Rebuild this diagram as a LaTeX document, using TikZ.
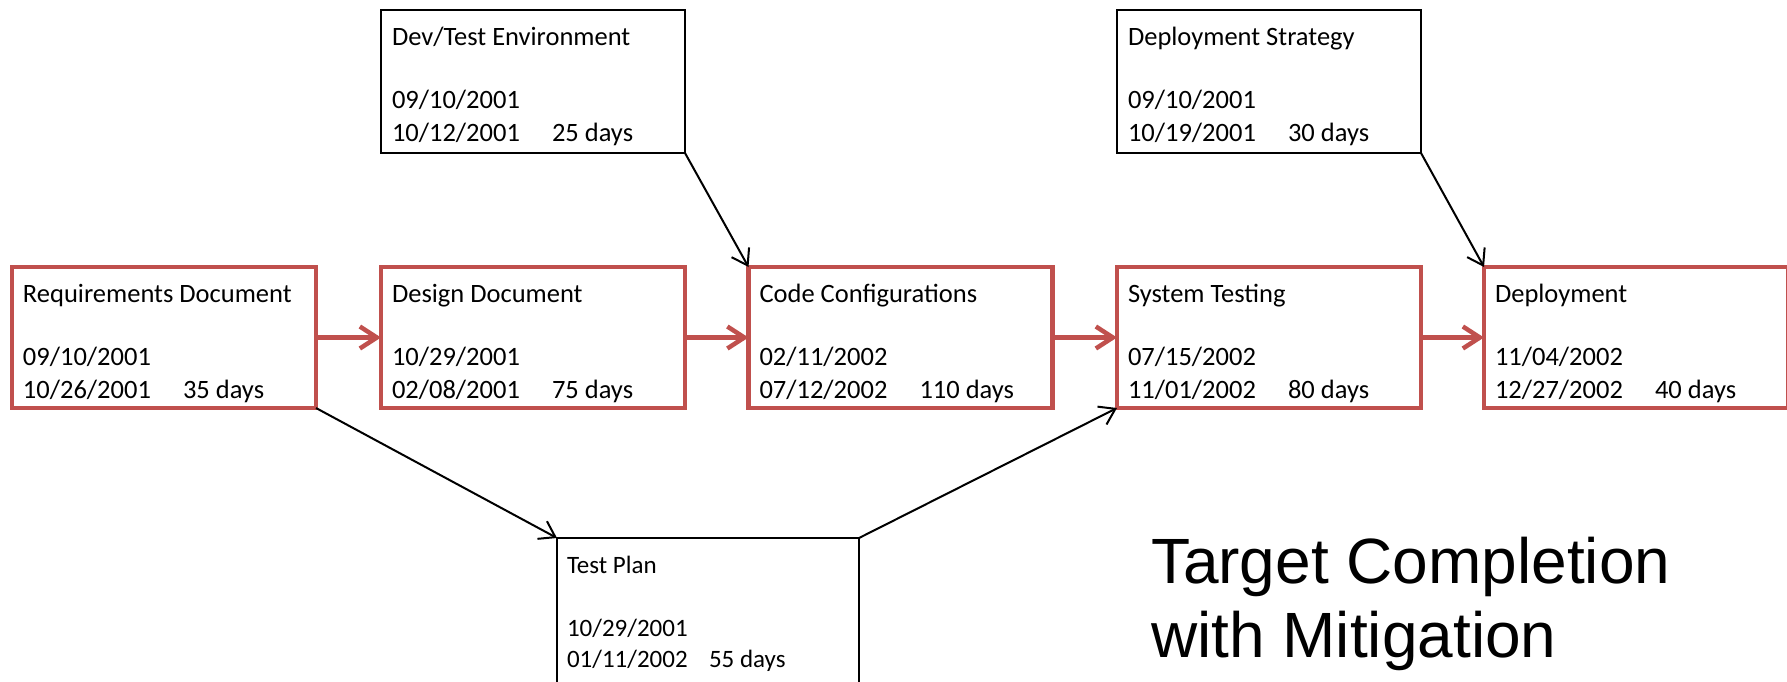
\documentclass[tikz,border=0pt]{standalone}
\usepackage{fontspec}
\setmainfont{Carlito}
\newfontfamily\arialfont{Liberation Sans}
\usetikzlibrary{arrows.meta,calc}
\definecolor{accred}{RGB}{192,80,77}
\tikzset{
  crit/.style={draw=accred, line width=4.5pt, rectangle, inner sep=0pt, outer sep=0pt, minimum width=304pt, minimum height=141pt},
  side/.style={draw=black, line width=2pt, rectangle, inner sep=0pt, outer sep=0pt, minimum width=304pt, minimum height=143pt},
  txt/.style={anchor=base west, inner sep=0pt, outer sep=0pt, font=\fontsize{26.5}{32}\selectfont},
  smalltxt/.style={anchor=base west, inner sep=0pt, outer sep=0pt, font=\fontsize{25}{30}\selectfont},
  titletxt/.style={anchor=base west, inner sep=0pt, outer sep=0pt, font=\arialfont\fontsize{64}{74}\selectfont},
  redarr/.style={draw=accred, line width=4.5pt, -{Straight Barb[length=17pt,width=22pt]}},
  blkarr/.style={draw=black, line width=2pt, -{Straight Barb[length=15pt,width=20pt]}},
}
\newcommand\tasktext[5]{%
  \node[txt] (#1-t) at ($(#1.north west)+(11,35)$) {#2};
  \node[txt] (#1-s) at ($(#1.north west)+(11,98)$) {#3};
  \node[txt] (#1-e) at ($(#1.north west)+(11,131)$) {#4};
  \node[txt] (#1-n) at ($(#1.north west)+(171,131)$) {#5};}
\begin{document}
\begin{tikzpicture}[x=1pt,y=-1pt]
\useasboundingbox (0,0) rectangle (1787,681);
% critical path boxes
\node[crit] (req)  at (164,337.5) {};
\node[crit] (des)  at (533,337.5) {};
\node[crit] (code) at (900.5,337.5) {};
\node[crit] (sys)  at (1269,337.5) {};
\node[crit] (dep)  at (1636,337.5) {};
% side boxes
\node[side] (dev)   at (533,81.5) {};
\node[side] (strat) at (1269,81.5) {};
\node[side, minimum width=302pt, minimum height=147pt] (tp) at (708,611.5) {};
% texts
\tasktext{req}{Requirements Document}{09/10/2001}{10/26/2001}{35 days}
\tasktext{des}{Design Document}{10/29/2001}{02/08/2001}{75 days}
\tasktext{code}{Code Configurations}{02/11/2002}{07/12/2002}{110 days}
\tasktext{sys}{System Testing}{07/15/2002}{11/01/2002}{80 days}
\tasktext{dep}{Deployment}{11/04/2002}{12/27/2002}{40 days}
\tasktext{dev}{Dev/Test Environment}{09/10/2001}{10/12/2001}{25 days}
\tasktext{strat}{Deployment Strategy}{09/10/2001}{10/19/2001}{30 days}
\node[smalltxt] (tp-t) at ($(tp.north west)+(10,35)$) {Test Plan};
\node[smalltxt] (tp-s) at ($(tp.north west)+(10,98)$) {10/29/2001};
\node[smalltxt] (tp-e) at ($(tp.north west)+(10,129)$) {01/11/2002};
\node[smalltxt] (tp-n) at ($(tp.north west)+(152,129)$) {55 days};
% title
\node[titletxt] (title1) at (1151,583) {Target Completion};
\node[titletxt] (title2) at (1151,657) {with Mitigation};
% connectors
\draw[redarr] (req.east) -- (des.west);
\draw[redarr] (des.east) -- (code.west);
\draw[redarr] (code.east) -- (sys.west);
\draw[redarr] (sys.east) -- (dep.west);
\draw[blkarr] (dev.south east) -- (code.north west);
\draw[blkarr] (strat.south east) -- (dep.north west);
\draw[blkarr] (req.south east) -- (tp.north west);
\draw[blkarr] (tp.north east) -- (sys.south west);
\end{tikzpicture}
\end{document}
